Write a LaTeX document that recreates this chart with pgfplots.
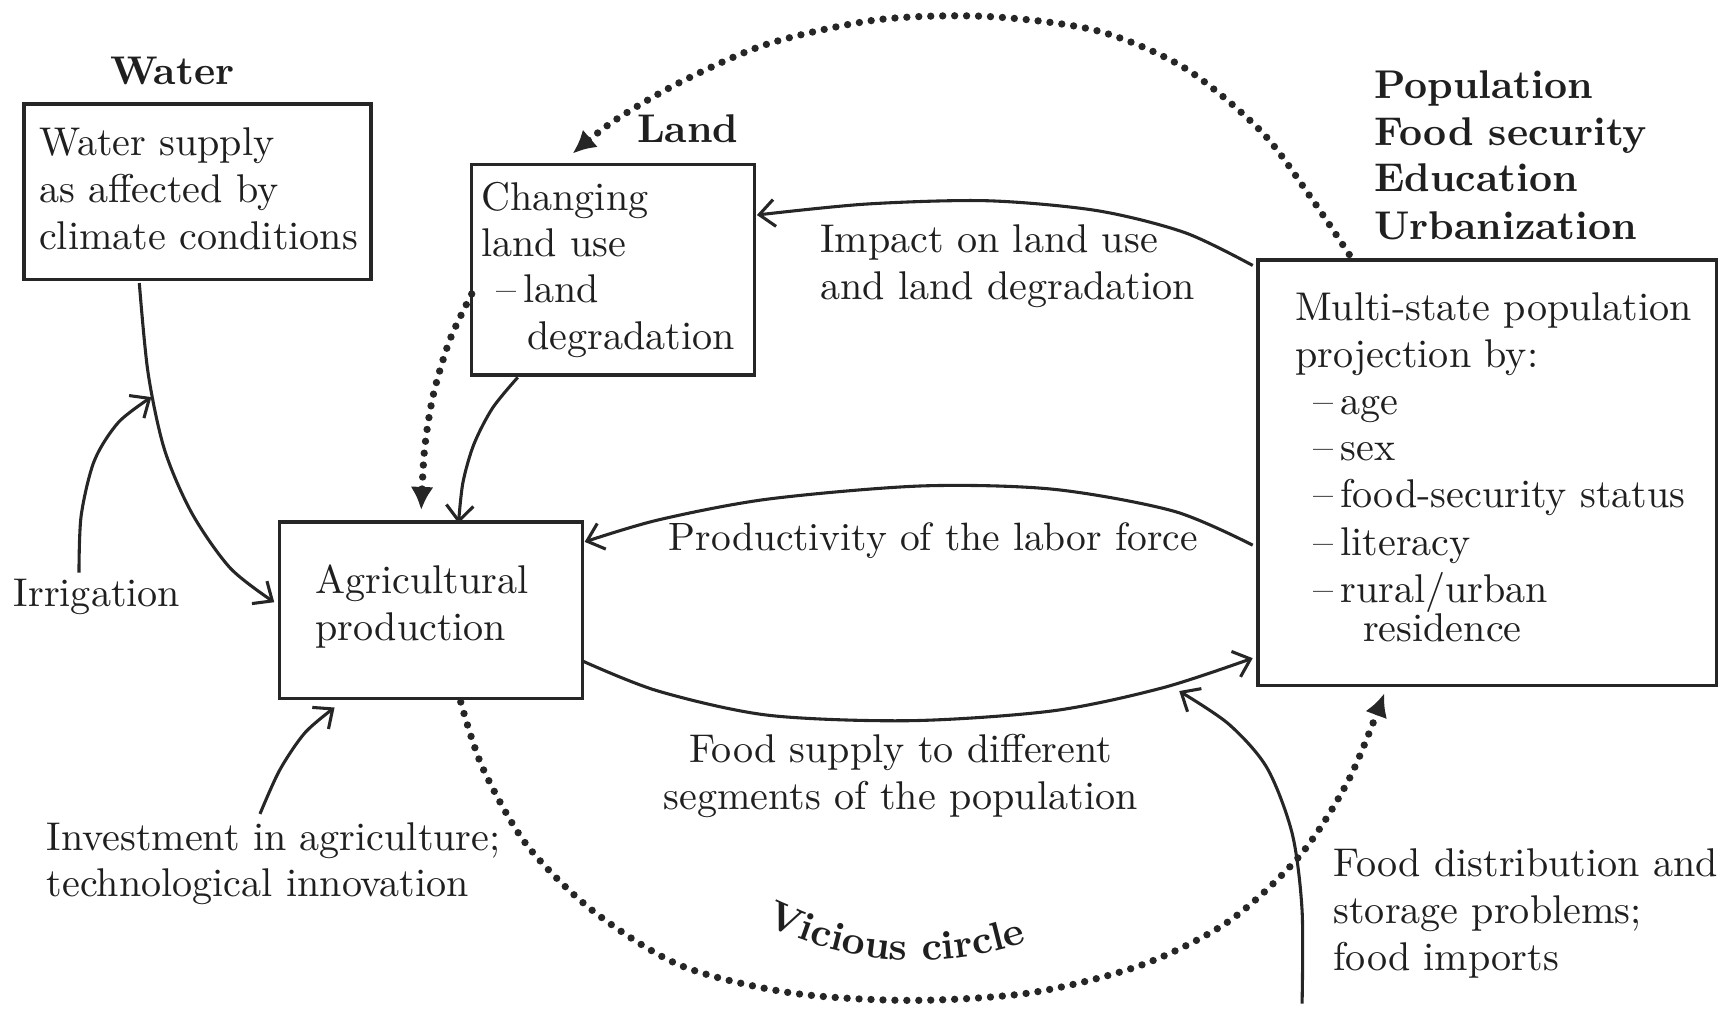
\documentclass[border=0pt]{standalone}
\usepackage{pgfplots}
\pgfplotsset{compat=1.18}
\usetikzlibrary{arrows.meta,decorations.text}
\begin{document}
\begin{tikzpicture}[
  txt/.style={anchor=base west, inner sep=0pt, font=\fontsize{10.4}{12}\selectfont, text=black!88},
  hd/.style={anchor=base west, inner sep=0pt, font=\fontsize{10.4}{12}\selectfont\bfseries, text=black!88},
  box/.style={draw=black!85, line width=0.9pt},
  sol/.style={black!85, line width=0.8pt, smooth, -{Straight Barb[length=4pt,width=7pt]}},
  dot/.style={black!85, line width=1.9pt, dash pattern=on 0pt off 3.1pt, line cap=round, smooth, -{Latex[length=6pt,width=6pt]}},
]
\begin{axis}[
  scale only axis, width=156.8mm, height=92mm,
  xmin=0, xmax=1568, ymin=0, ymax=920, y dir=reverse,
  hide axis, clip=false,
]
% frame of the picture (invisible)
\path (axis cs:0,0) rectangle (axis cs:1568,920);
% boxes
\draw[box] (axis cs:22,95) rectangle (axis cs:338,255);
\draw[box] (axis cs:430,150) rectangle (axis cs:688,342);
\draw[box] (axis cs:1147,237) rectangle (axis cs:1565,625);
\draw[box] (axis cs:255,476) rectangle (axis cs:531,637);

% headings
\node[hd, anchor=base] at (axis cs:157,77) {Water};
\node[hd] at (axis cs:580,130) {Land};
\node[hd] at (axis cs:1252,90) {Population};
\node[hd] at (axis cs:1252,133) {Food security};
\node[hd] at (axis cs:1252,175) {Education};
\node[hd] at (axis cs:1252,218) {Urbanization};

% water box
\node[txt] at (axis cs:35,142) {Water supply};
\node[txt] at (axis cs:35,185) {as affected by};
\node[txt] at (axis cs:35,227) {climate conditions};
% land box
\node[txt] at (axis cs:438,192) {Changing};
\node[txt] at (axis cs:438,234) {land use};
\node[txt] at (axis cs:452,276) {--\,land};
\node[txt] at (axis cs:480,319) {degradation};
% population box
\node[txt] at (axis cs:1180,292) {Multi-state population};
\node[txt] at (axis cs:1180,335) {projection by:};
\node[txt] at (axis cs:1197,378) {--\,age};
\node[txt] at (axis cs:1197,420) {--\,sex};
\node[txt] at (axis cs:1197,463) {--\,food-security status};
\node[txt] at (axis cs:1197,506) {--\,literacy};
\node[txt] at (axis cs:1197,549) {--\,rural/urban};
\node[txt] at (axis cs:1242,585) {residence};
% agri box
\node[txt] at (axis cs:287,541) {Agricultural};
\node[txt] at (axis cs:287,584) {production};

% free labels
\node[txt] at (axis cs:12,553) {Irrigation};
\node[txt] at (axis cs:42,775) {Investment in agriculture;};
\node[txt] at (axis cs:42,817) {technological innovation};
\node[txt] at (axis cs:747,230) {Impact on land use};
\node[txt] at (axis cs:747,273) {and land degradation};
\node[txt, font=\fontsize{10.25}{12}\selectfont] at (axis cs:609,502) {Productivity of the labor force};
\node[txt, anchor=base] at (axis cs:821,695) {Food supply to different};
\node[txt, anchor=base] at (axis cs:821,738) {segments of the population};
\node[txt] at (axis cs:1215,799) {Food distribution and};
\node[txt] at (axis cs:1215,842) {storage problems;};
\node[txt] at (axis cs:1215,885) {food imports};

% solid arrows
\addplot[sol] coordinates {(127,258) (135,340) (150,410) (175,468) (210,518) (250,549)};
\addplot[sol] coordinates {(72,522) (74,470) (86,420) (108,385) (138,362)};
\addplot[sol] coordinates {(472,344) (449,372) (432,405) (422,440) (418,477)};
\addplot[sol] coordinates {(1142,242) (1080,212) (1000,192) (900,183) (790,186) (690,196)};
\addplot[sol] coordinates {(1142,497) (1070,466) (960,446) (840,443) (700,455) (600,474) (533,494)};
\addplot[sol] coordinates {(532,603) (600,630) (700,652) (830,657) (960,648) (1060,627) (1142,600)};
\addplot[sol] coordinates {(1187,915) (1187,830) (1178,760) (1155,700) (1120,660) (1075,630)};
\addplot[sol] coordinates {(237,742) (255,702) (278,668) (305,645)};

% dotted arrows
\addplot[dot] coordinates {(1230,232) (1195,180) (1150,120) (1080,62) (1000,28) (900,15) (800,18) (700,40) (620,75) (560,110) (522,140)};
\addplot[dot] coordinates {(420,640) (440,700) (480,770) (540,830) (620,880) (720,905) (830,912) (940,905) (1040,880) (1120,840) (1185,780) (1230,710) (1262,632)};
\addplot[dot] coordinates {(430,268) (410,310) (395,360) (387,410) (384,465)};

% vicious circle
\path[decorate, decoration={text along path, text align=center,
   text={|\fontsize{10.4}{12}\selectfont\bfseries\color{black!88}|Vicious circle}}]
   (axis cs:682,834) .. controls (axis cs:762,880) and (axis cs:862,890) .. (axis cs:952,853);
\end{axis}
\end{tikzpicture}
\end{document}
